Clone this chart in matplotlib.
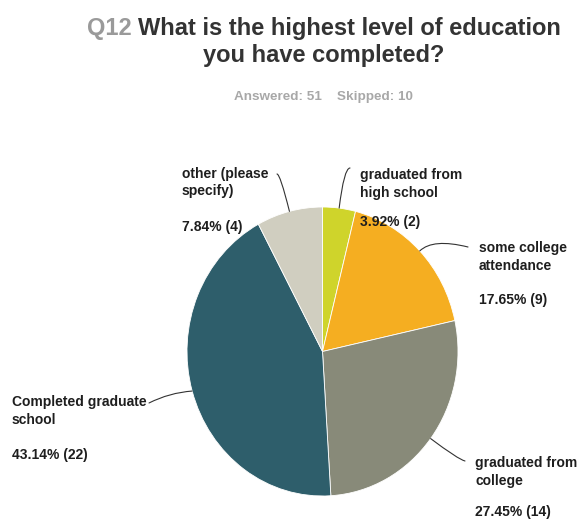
import matplotlib
matplotlib.use("Agg")
import matplotlib.pyplot as plt
import numpy as np

# Survey responses (clockwise from 12 o'clock)
categories = ["graduated from\nhigh school", "some college\nattendance",
              "graduated from\ncollege", "Completed graduate\nschool",
              "other (please\nspecify)"]
counts = [2, 9, 14, 22, 4]
colors = ["#cfd42b", "#f5ae21", "#888a79", "#2e5e6b", "#d0cec0"]
question_no = "Q12"
question = ["What is the highest level of education", "you have completed?"]
answered = 51
skipped = 10

W, H = 579, 521
fig = plt.figure(figsize=(W / 100, H / 100), dpi=100)
fig.patch.set_facecolor("white")

FONT = "Liberation Sans"

# pie axes (pixel box of the pie: x 187..458, y 207..496 from top)
px0, px1, py0, py1 = 187, 458, 207, 496
ax_pie = fig.add_axes([px0 / W, (H - py1) / H, (px1 - px0) / W, (py1 - py0) / H])
ax_pie.pie(counts, colors=colors, startangle=90, counterclock=False,
           radius=1.0, wedgeprops=dict(edgecolor="white", linewidth=0.6))
ax_pie.set_aspect("auto")
ax_pie.set_xlim(-1, 1)
ax_pie.set_ylim(-1, 1)
ax_pie.axis("off")

# overlay axes in pixel coordinates (y downward)
ax = fig.add_axes([0, 0, 1, 1], zorder=5)
ax.set_xlim(0, W)
ax.set_ylim(H, 0)
ax.axis("off")
ax.patch.set_alpha(0)

# title
renderer = fig.canvas.get_renderer()
cx = 324
t1 = ax.text(0, 35, question_no + " ", fontsize=17, fontweight="bold",
             color="#9a9a9a", family=FONT, va="baseline", ha="left")
t2 = ax.text(0, 35, question[0], fontsize=17, fontweight="bold",
             color="#333333", family=FONT, va="baseline", ha="left")
w1 = t1.get_window_extent(renderer).width
w2 = t2.get_window_extent(renderer).width
x_start = cx - (w1 + w2) / 2
t1.set_x(x_start)
t2.set_x(x_start + w1)
ax.text(cx, 62, question[1], fontsize=17, fontweight="bold",
        color="#333333", family=FONT, va="baseline", ha="center")
ax.text(cx - 1, 97, f"Answered: {answered}    Skipped: {skipped}", fontsize=9.7,
        fontweight="bold", color="#a8a8a8", family=FONT, va="center", ha="center")

# labels: (name x, first line center y, percent center y, line end x, line end y, connection)
label_layout = [
    (360, 175, 222, 350, 168, "angle3,angleA=0,angleB=83"),
    (479, 248, 300, 468, 247, "angle3,angleA=-14,angleB=44"),
    (475, 463, 512, 465, 461, "angle3,angleA=-14,angleB=-37"),
    (12, 402, 455, 149, 403, "arc3,rad=-0.1"),
    (182, 174, 227, 277, 174, "angle3,angleA=0,angleB=104"),
]

total = sum(counts)
cum = np.cumsum([0] + counts)
for i, (name, n) in enumerate(zip(categories, counts)):
    lx, ly, py, ex, ey, conn = label_layout[i]
    lines = name.split("\n")
    for k, line in enumerate(lines):
        ax.text(lx, ly + 17.5 * k, line, fontsize=10, fontweight="bold",
                color="#1e1e1e", family=FONT, va="center", ha="left")
    ax.text(lx, py, f"{100 * n / total:.2f}% ({n})", fontsize=10,
            fontweight="bold", color="#1e1e1e", family=FONT, va="center", ha="left")
    mid = 2 * np.pi * (cum[i] + n / 2) / total
    ax.annotate("", xy=(np.sin(mid), np.cos(mid)), xycoords=ax_pie.transData,
                xytext=(ex, ey), textcoords="data",
                arrowprops=dict(arrowstyle="-", color="#333333", lw=0.8,
                                shrinkA=0, shrinkB=0, connectionstyle=conn))

fig.savefig("out.png", dpi=100, facecolor="white")
